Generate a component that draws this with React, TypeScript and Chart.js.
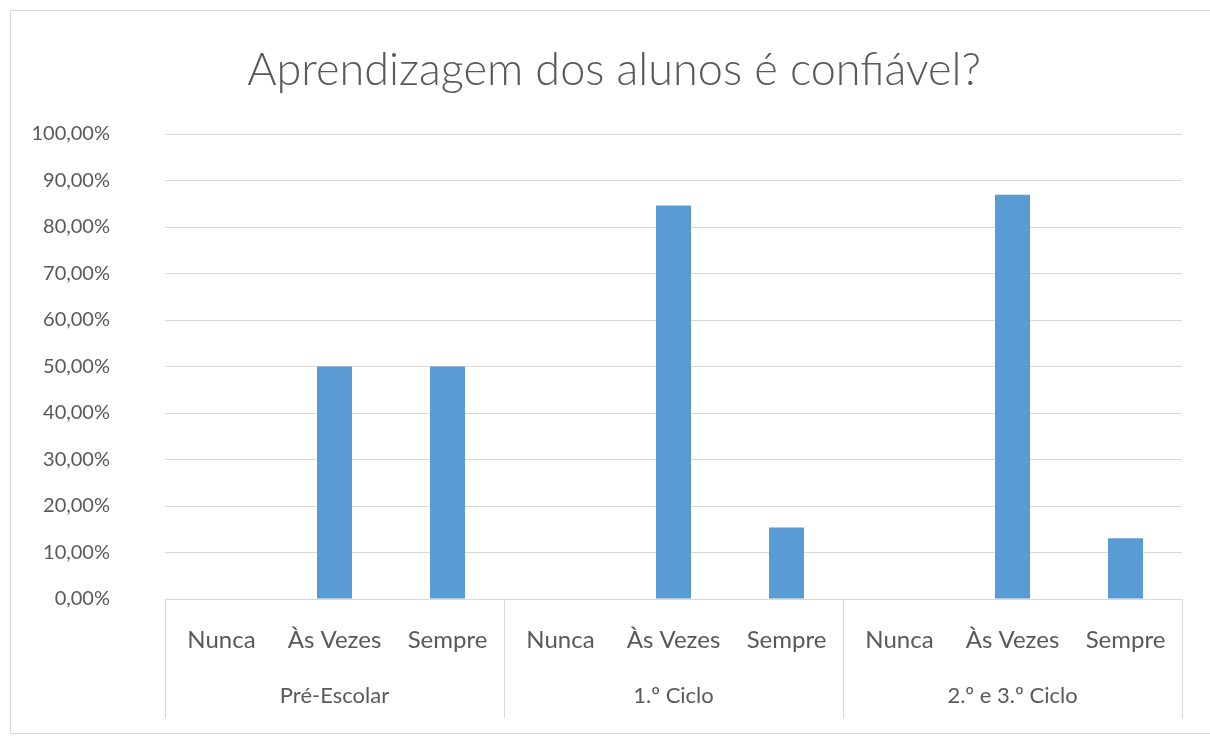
import React, { useEffect, useRef } from "react";
import { Chart, registerables } from "chart.js";

Chart.register(...registerables);

const titleText = "Aprendizagem dos alunos é confiável?";
const groups = ["Pré-Escolar", "1.º Ciclo", "2.º e 3.º Ciclo"];
const answers = ["Nunca", "Às Vezes", "Sempre"];
const preEscolar = [0, 50, 50];
const primeiroCiclo = [0, 84.62, 15.38];
const segundoTerceiroCiclo = [0, 86.96, 13.04];
const yTicks = [0, 10, 20, 30, 40, 50, 60, 70, 80, 90, 100];

const TEXT = "#595959";
const GRID = "#d9d9d9";
const BAR = "#5b9bd5";
const FONT = "Lato, 'Open Sans', sans-serif";

export default function App() {
  const ref = useRef<HTMLCanvasElement | null>(null);

  useEffect(() => {
    const canvas = ref.current;
    if (!canvas) return;
    const labels: string[] = [];
    groups.forEach(() => answers.forEach((a) => labels.push(a)));
    const values = [...preEscolar, ...primeiroCiclo, ...segundoTerceiroCiclo];

    const separators = {
      id: "groupSeparators",
      afterDraw(chart: any) {
        const x = chart.scales.x;
        const x2 = chart.scales.x2;
        const ctx = chart.ctx;
        const n = labels.length;
        const per = answers.length;
        const xs: number[] = [];
        for (let k = 0; k <= n; k += per) {
          if (k === 0) xs.push(x.left);
          else if (k === n) xs.push(x.right);
          else xs.push((x.getPixelForValue(k - 1) + x.getPixelForValue(k)) / 2);
        }
        ctx.save();
        ctx.strokeStyle = GRID;
        ctx.lineWidth = 1;
        ctx.beginPath();
        xs.forEach((px) => {
          const p = Math.round(px) + 0.5;
          ctx.moveTo(p, chart.chartArea.bottom);
          ctx.lineTo(p, x2.bottom);
        });
        ctx.stroke();
        ctx.restore();
      },
    };

    const chart = new Chart(canvas, {
      type: "bar",
      data: {
        labels,
        datasets: [
          {
            data: values,
            backgroundColor: BAR,
            borderWidth: 0,
            barPercentage: 0.31,
            categoryPercentage: 1,
            xAxisID: "x",
            yAxisID: "y",
          },
        ],
      },
      options: {
        animation: false,
        responsive: false,
        maintainAspectRatio: false,
        layout: { padding: { left: 0, right: -18, top: 0, bottom: 22 } },
        plugins: {
          legend: { display: false },
          tooltip: { enabled: false },
          title: {
            display: true,
            text: titleText,
            color: TEXT,
            font: { family: FONT, size: 45, weight: "300" as any, lineHeight: 1.2 },
            padding: { top: 43, bottom: 37 },
          },
        },
        scales: {
          y: {
            min: 0,
            max: 100,
            afterBuildTicks: (s: any) => {
              s.ticks = yTicks.map((v) => ({ value: v }));
            },
            afterFit: (s: any) => {
              s.width = 165;
            },
            grid: { color: GRID, lineWidth: 1, drawTicks: false },
            border: { display: false },
            ticks: {
              color: TEXT,
              font: { family: FONT, size: 20 },
              padding: 55,
              callback: (v: any) => Number(v).toFixed(2).replace(".", ",") + "%",
            },
          },
          yr: {
            type: "linear",
            position: "right",
            min: 0,
            max: 100,
            afterFit: (s: any) => {
              s.width = 46;
            },
            grid: { display: false, drawOnChartArea: false, drawTicks: false },
            border: { display: false },
            ticks: { display: false },
          },
          x: {
            type: "category",
            position: "bottom",
            weight: 0,
            afterFit: (s: any) => {
              s.height = 67;
            },
            grid: { display: false, drawTicks: false },
            border: { display: true, color: GRID },
            ticks: {
              color: TEXT,
              font: { family: FONT, size: 24 },
              autoSkip: false,
              maxRotation: 0,
              minRotation: 0,
              padding: 27,
            },
          },
          x2: {
            type: "category",
            position: "bottom",
            weight: 1,
            labels: groups,
            offset: true,
            afterFit: (s: any) => {
              s.height = 52;
            },
            grid: { display: false, drawTicks: false },
            border: { display: false },
            ticks: {
              color: TEXT,
              font: { family: FONT, size: 22 },
              autoSkip: false,
              maxRotation: 0,
              minRotation: 0,
              padding: 17,
            },
          },
        },
      } as any,
      plugins: [separators],
    });
    return () => chart.destroy();
  }, []);

  return (
    <div style={{ position: "absolute", left: 0, top: 0, width: 1210, height: 740, background: "#fff" }}>
      <div
        style={{
          position: "absolute",
          left: 10,
          top: 10,
          width: 1210,
          height: 724,
          border: `1px solid ${GRID}`,
          boxSizing: "border-box",
        }}
      />
      <canvas
        ref={ref}
        width={1210}
        height={740}
        style={{ position: "absolute", left: 0, top: 0, width: 1210, height: 740 }}
      />
    </div>
  );
}
